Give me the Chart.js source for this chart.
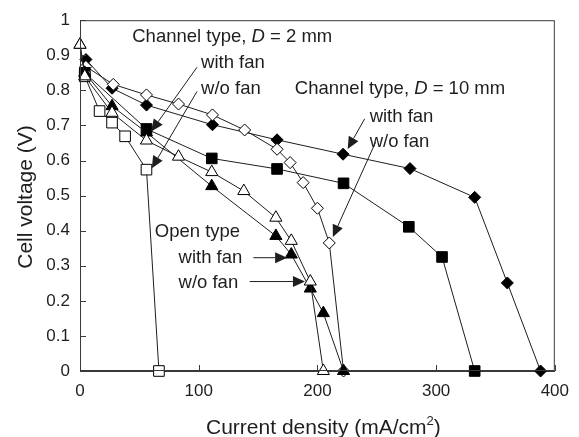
<!DOCTYPE html>
<html>
<head>
<meta charset="utf-8">
<script src="https://cdn.jsdelivr.net/npm/chart.js@4/dist/chart.umd.min.js"></script>
<style>
  html, body { margin: 0; padding: 0; background: #fff; }
  #wrap { width: 579px; height: 437px; }
</style>
</head>
<body>
<div id="wrap"><canvas id="iv"></canvas></div>
<script>
// polarisation curves: current density (mA/cm2) vs cell voltage (V)
const openNoFanX = [0, 4, 27, 56, 83, 111, 138, 165, 178, 194, 205];
const openNoFanV = [0.93, 0.84, 0.736, 0.657, 0.611, 0.567, 0.513, 0.437, 0.371, 0.255, 0];
const openFanX = [0, 4, 27, 56, 111, 165, 178, 194, 205, 222];
const openFanV = [0.93, 0.85, 0.755, 0.68, 0.527, 0.385, 0.332, 0.235, 0.165, 0];
const ch2NoFanX = [4, 16.5, 27, 38, 56, 66.5];
const ch2NoFanV = [0.84, 0.741, 0.708, 0.669, 0.574, 0];
const ch2FanX = [4, 56, 111, 166, 222, 277, 305, 332.5];
const ch2FanV = [0.85, 0.69, 0.606, 0.576, 0.535, 0.411, 0.325, 0];
const ch10NoFanX = [5, 28, 56, 83, 111.6, 138.7, 166, 177, 188, 200, 210, 222];
const ch10NoFanV = [0.868, 0.817, 0.787, 0.761, 0.73, 0.687, 0.632, 0.594, 0.537, 0.464, 0.365, 0];
const ch10FanX = [5, 27, 56, 111.6, 166, 221.6, 278, 332.5, 360, 388];
const ch10FanV = [0.888, 0.806, 0.758, 0.702, 0.659, 0.618, 0.577, 0.495, 0.251, 0];

const xTicks = [0, 100, 200, 300, 400];
const yTicks = [0, 0.1, 0.2, 0.3, 0.4, 0.5, 0.6, 0.7, 0.8, 0.9, 1];

const FONT = '"Liberation Sans", Arial, sans-serif';
const INK = '#1e1e1e';

const pts = (xs, vs) => xs.map((x, i) => ({ x: x, y: vs[i] }));

function series(xs, vs, style, filled, radius) {
  return {
    data: pts(xs, vs),
    showLine: true,
    borderColor: INK,
    borderWidth: 1,
    pointStyle: style,
    pointRadius: radius,
    pointBorderWidth: 1,
    pointBorderColor: '#000',
    pointBackgroundColor: filled ? '#000' : '#fff',
    clip: false
  };
}

// labels and arrows, positioned in data units
const notes = [
  { x: 44, y: 0.952, runs: [['Channel type, ', ''], ['D', 'italic '], [' = 2 mm', '']] },
  { x: 102, y: 0.878, runs: [['with fan', '']] },
  { x: 102, y: 0.803, runs: [['w/o fan', '']] },
  { x: 181, y: 0.803, runs: [['Channel type, ', ''], ['D', 'italic '], [' = 10 mm', '']] },
  { x: 244, y: 0.725, runs: [['with fan', '']] },
  { x: 244, y: 0.653, runs: [['w/o fan', '']] },
  { x: 63, y: 0.397, runs: [['Open type', '']] },
  { x: 83, y: 0.322, runs: [['with fan', '']] },
  { x: 83, y: 0.25, runs: [['w/o fan', '']] }
];
const arrows = [
  { from: [98.6, 0.866], to: [60, 0.683] },
  { from: [98.6, 0.797], to: [60.5, 0.578] },
  { from: [239.8, 0.719], to: [225.5, 0.633] },
  { from: [249, 0.652], to: [213, 0.382] },
  { from: [146, 0.323], to: [174.5, 0.323] },
  { from: [143, 0.255], to: [189.5, 0.255] }
];

const decor = {
  id: 'decor',
  afterDraw(chart) {
    const { ctx, chartArea: a, scales } = chart;
    const sx = scales.x, sy = scales.y;
    ctx.save();
    // frame and inward ticks
    ctx.strokeStyle = '#3a3a3a';
    ctx.lineWidth = 1;
    ctx.strokeRect(a.left + 0.5, a.top + 0.5, a.right - a.left - 1, a.bottom - a.top - 1);
    ctx.beginPath();
    xTicks.forEach(v => {
      const px = Math.round(sx.getPixelForValue(v)) + 0.5;
      ctx.moveTo(px, a.bottom); ctx.lineTo(px, a.bottom - 6);
    });
    yTicks.forEach(v => {
      const py = Math.round(sy.getPixelForValue(v)) + 0.5;
      ctx.moveTo(a.left, py); ctx.lineTo(a.left + 6, py);
    });
    ctx.stroke();

    // arrows
    ctx.strokeStyle = INK;
    ctx.fillStyle = INK;
    arrows.forEach(ar => {
      const x0 = sx.getPixelForValue(ar.from[0]), y0 = sy.getPixelForValue(ar.from[1]);
      const x1 = sx.getPixelForValue(ar.to[0]), y1 = sy.getPixelForValue(ar.to[1]);
      const ang = Math.atan2(y1 - y0, x1 - x0);
      const len = 12, half = 5.5;
      const bx = x1 - len * Math.cos(ang), by = y1 - len * Math.sin(ang);
      ctx.beginPath();
      ctx.moveTo(x0, y0); ctx.lineTo(bx, by);
      ctx.stroke();
      ctx.beginPath();
      ctx.moveTo(x1, y1);
      ctx.lineTo(bx + half * Math.sin(ang), by - half * Math.cos(ang));
      ctx.lineTo(bx - half * Math.sin(ang), by + half * Math.cos(ang));
      ctx.closePath();
      ctx.fill();
    });

    // annotation text
    ctx.textBaseline = 'middle';
    ctx.textAlign = 'left';
    notes.forEach(n => {
      let px = sx.getPixelForValue(n.x);
      const py = sy.getPixelForValue(n.y);
      n.runs.forEach(([txt, style]) => {
        ctx.font = style + '18.5px ' + FONT;
        ctx.fillText(txt, px, py);
        px += ctx.measureText(txt).width;
      });
    });

    // axis titles
    ctx.font = '21px ' + FONT;
    ctx.textBaseline = 'alphabetic';
    const main = 'Current density (mA/cm';
    const wMain = ctx.measureText(main).width;
    ctx.font = '13px ' + FONT;
    const wSup = ctx.measureText('2').width;
    ctx.font = '21px ' + FONT;
    const wEnd = ctx.measureText(')').width;
    let tx = (a.left + a.right) / 2 + 6 - (wMain + wSup + wEnd) / 2;
    const ty = 434;
    ctx.fillText(main, tx, ty);
    tx += wMain;
    ctx.font = '13px ' + FONT;
    ctx.fillText('2', tx, ty - 9);
    tx += wSup;
    ctx.font = '21px ' + FONT;
    ctx.fillText(')', tx, ty);

    ctx.translate(32, 197);
    ctx.rotate(-Math.PI / 2);
    ctx.textAlign = 'center';
    ctx.fillText('Cell voltage (V)', 0, 0);
    ctx.restore();
  }
};

new Chart(document.getElementById('iv'), {
  type: 'scatter',
  data: {
    datasets: [
      series(openNoFanX, openNoFanV, 'triangle', false, 7),
      series(openFanX, openFanV, 'triangle', true, 7),
      series(ch2NoFanX, ch2NoFanV, 'rect', false, 7.5),
      series(ch2FanX, ch2FanV, 'rect', true, 7.5),
      series(ch10NoFanX, ch10NoFanV, 'rectRot', false, 6),
      series(ch10FanX, ch10FanV, 'rectRot', true, 6)
    ]
  },
  options: {
    responsive: true,
    maintainAspectRatio: false,
    animation: false,
    layout: { padding: { top: 12, right: 22, left: 0, bottom: 0 } },
    plugins: { legend: { display: false }, tooltip: { enabled: false } },
    scales: {
      x: {
        type: 'linear',
        min: 0, max: 400,
        afterBuildTicks: s => { s.ticks = xTicks.map(v => ({ value: v })); },
        afterFit: s => { s.height = 66; },
        grid: { display: true, drawOnChartArea: false, drawTicks: false },
        border: { display: true, color: '#3a3a3a' },
        ticks: { padding: 10, color: INK, font: { family: FONT, size: 17 }, maxRotation: 0 }
      },
      y: {
        type: 'linear',
        min: 0, max: 1,
        afterBuildTicks: s => { s.ticks = yTicks.map(v => ({ value: v })); },
        afterFit: s => { s.width = 80; },
        grid: { display: true, drawOnChartArea: false, drawTicks: false },
        border: { display: true, color: '#3a3a3a' },
        ticks: { padding: 10, color: INK, font: { family: FONT, size: 17 }, callback: v => String(v) }
      }
    }
  },
  plugins: [decor]
});
</script>
</body>
</html>
